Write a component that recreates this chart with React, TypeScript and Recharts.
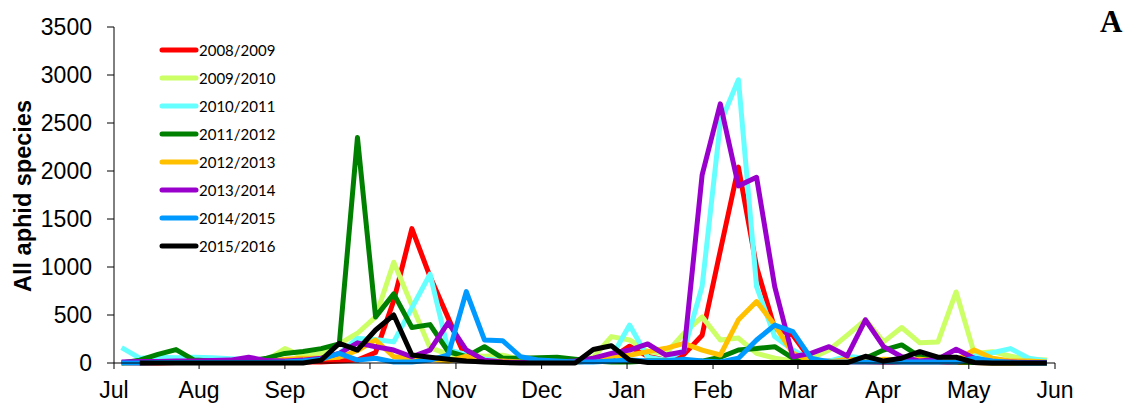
import { LineChart, Line, XAxis, YAxis } from "recharts";

// month ticks sit between weekly samples, so they are given in week units
const monthTicks = [-0.42, 4.27, 9.0, 13.69, 18.43, 23.15, 27.86, 32.6, 37.28, 41.97, 46.7, 51.45];
const monthLabels = ["Jul", "Aug", "Sep", "Oct", "Nov", "Dec", "Jan", "Feb", "Mar", "Apr", "May", "Jun"];
const yTicks = [0, 500, 1000, 1500, 2000, 2500, 3000, 3500];

const seasons = ["2008/2009", "2009/2010", "2010/2011", "2011/2012", "2012/2013", "2013/2014", "2014/2015", "2015/2016"];
const colors = ["#FF0000", "#CCFF66", "#66FFFF", "#008000", "#FFC000", "#9900CC", "#0099FF", "#000000"];

// weekly catches, week 0 = early July
const s0809 = [
    0, 0, 0, 5, 5, 5, 5, 5, 10, 10, 10, 10, 20,
    30, 110, 650, 1400, 900, 470, 40, 20, 10, 5, 5,
    5, 10, 20, 50, 175, 70, 30, 90, 290, 1170,
    2040, 1000, 360, 290, 30, 20, 10, 10, 5, 5,
    5, 5, 5, 5, 0, 0, 0, 0,
];
const s0910 = [
    0, 5, 10, 10, 15, 15, 15, 20, 30, 150, 70, 100, 200,
    310, 480, 1050, 600, 160, 90, 80, 70, 80, 40, 10,
    5, 5, 60, 275, 240, 120, 100, 310, 480, 240,
    260, 100, 50, 20, 50, 135, 290, 450, 220, 370,
    210, 220, 740, 100, 118, 70, 40, 30,
];
const s1011 = [
    160, 50, 60, 55, 60, 55, 45, 35, 20, 20, 30, 40, 100,
    255, 245, 220, 575, 925, 135, 90, 40, 30, 20, 10,
    10, 20, 30, 60, 395, 60, 30, 135, 800, 2500,
    2950, 795, 275, 135, 30, 20, 70, 50, 20, 10,
    10, 10, 20, 70, 107, 150, 50, 20,
];
const s1112 = [
    0, 30, 90, 140, 30, 20, 20, 20, 50, 100, 120, 150, 200,
    2350, 480, 720, 370, 400, 120, 65, 170, 50, 50, 55,
    60, 40, 20, 10, 10, 20, 20, 10, 20, 60,
    135, 150, 170, 50, 20, 10, 20, 50, 135, 188,
    65, 20, 10, 5, 0, 0, 0, 0,
];
const s1213 = [
    0, 10, 10, 10, 10, 10, 10, 10, 10, 40, 50, 50, 60,
    130, 240, 65, 50, 40, 20, 70, 20, 20, 10, 10,
    10, 10, 20, 70, 80, 118, 153, 205, 135, 83,
    450, 640, 395, 100, 20, 10, 40, 20, 40, 30,
    40, 20, 30, 135, 50, 20, 20, 10,
];
const s1314 = [
    10, 15, 15, 20, 20, 25, 30, 60, 25, 20, 30, 50, 100,
    210, 170, 135, 65, 135, 420, 135, 30, 10, 5, 5,
    10, 20, 50, 100, 135, 198, 83, 118, 1960, 2700,
    1845, 1935, 795, 65, 100, 170, 73, 450, 170, 65,
    20, 40, 143, 50, 10, 10, 5, 5,
];
const s1415 = [
    0, 0, 5, 5, 5, 5, 5, 5, 5, 10, 20, 40, 100,
    30, 50, 10, 10, 30, 83, 743, 240, 232, 65, 30,
    20, 10, 10, 20, 30, 20, 20, 40, 20, 10,
    50, 240, 395, 326, 50, 10, 10, 10, 10, 10,
    10, 10, 10, 50, 20, 5, 0, 0,
];
const s1516 = [
    null, 0, 0, 0, 0, 0, 0, 0, 0, 0, 0, 30, 205,
    135, 344, 500, 83, 60, 40, 20, 10, 5, 0, 0,
    0, 0, 140, 180, 30, 5, 5, 5, 5, 5,
    5, 5, 5, 5, 5, 5, 5, 70, 20, 50,
    118, 60, 60, 5, 0, 0, 0, 0,
];

const seriesValues = [s0809, s0910, s1011, s1112, s1213, s1314, s1415, s1516];

const data = s0809.map((_, i) => {
    const row: any = { week: i };
    seasons.forEach((s, j) => {
        row[s] = seriesValues[j][i];
    });
    return row;
});

const tickFont = { fontFamily: "'Liberation Sans', Arial, sans-serif", fontSize: 23, fill: "#000" };

function AxisTitle() {
    return (
        <text
            x={23}
            y={196}
            transform="rotate(-90 23 196)"
            textAnchor="middle"
            dominantBaseline="central"
            fontFamily="'Liberation Sans', Arial, sans-serif"
            fontWeight="bold"
            fontSize={23.5}
            fill="#000"
        >
            All aphid species
        </text>
    );
}

export default function App() {
    return (
        <div
            style={{
                position: "absolute",
                left: 0,
                top: 0,
                width: 1130,
                height: 410,
                background: "#fff",
            }}
        >
            <LineChart
                width={1130}
                height={410}
                data={data}
                margin={{ top: 27, right: 75, bottom: 0, left: 0 }}
            >
                <XAxis
                    dataKey="week"
                    type="number"
                    domain={[monthTicks[0], monthTicks[11]]}
                    ticks={monthTicks}
                    interval={0}
                    tickFormatter={(v: number) => monthLabels[monthTicks.indexOf(v)]}
                    height={47}
                    tickSize={6}
                    tickMargin={13}
                    tick={tickFont}
                    axisLine={{ stroke: "#000" }}
                    tickLine={{ stroke: "#000" }}
                />
                <YAxis
                    domain={[0, 3500]}
                    ticks={yTicks}
                    interval={0}
                    width={114}
                    tickSize={7}
                    tickMargin={15}
                    tick={tickFont}
                    axisLine={{ stroke: "#000" }}
                    tickLine={{ stroke: "#000" }}
                    label={{ content: () => <AxisTitle /> }}
                />
                {seasons.map((s, i) => (
                    <Line
                        key={s}
                        type="linear"
                        dataKey={s}
                        stroke={colors[i]}
                        strokeWidth={5}
                        strokeLinejoin="round"
                        dot={false}
                        isAnimationActive={false}
                    />
                ))}
            </LineChart>

            <div
                style={{
                    position: "absolute",
                    left: 159,
                    top: 36,
                    fontFamily: "Lato, 'Open Sans', sans-serif",
                    fontSize: 15,
                    color: "#000",
                }}
            >
                {seasons.map((s, i) => (
                    <div
                        key={s}
                        style={{ display: "flex", alignItems: "center", height: 28 }}
                    >
                        <svg width={40} height={8}>
                            <line
                                x1={3}
                                y1={4}
                                x2={37}
                                y2={4}
                                stroke={colors[i]}
                                strokeWidth={5}
                                strokeLinecap="round"
                            />
                        </svg>
                        <span>{s}</span>
                    </div>
                ))}
            </div>

            <div
                style={{
                    position: "absolute",
                    left: 1100,
                    top: 5,
                    fontFamily: "'Liberation Serif', 'Times New Roman', serif",
                    fontWeight: "bold",
                    fontSize: 31,
                    lineHeight: "34px",
                }}
            >
                A
            </div>
        </div>
    );
}
